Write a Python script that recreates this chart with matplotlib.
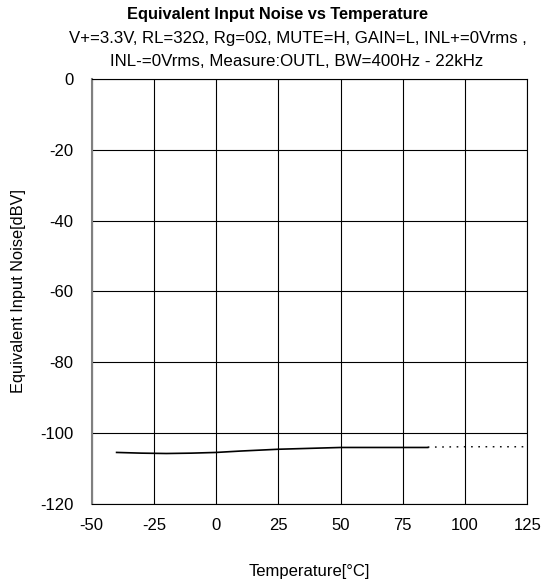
import matplotlib
matplotlib.use("Agg")
import matplotlib.pyplot as plt

# measured curve
temp = [-40, -30, -20, -10, 0, 10, 25, 40, 50, 65, 75, 85]
noise = [-105.4, -105.6, -105.7, -105.6, -105.4, -105.0, -104.5, -104.2, -104.0, -104.0, -104.0, -104.0]

# extrapolated (dotted) part
temp_ext = [85, 100, 125]
noise_ext = [-103.9, -103.8, -103.8]

x_ticks = [-50, -25, 0, 25, 50, 75, 100, 125]
y_ticks = [0, -20, -40, -60, -80, -100, -120]

plt.rcParams['font.family'] = ['Liberation Sans', 'DejaVu Sans']
plt.rcParams['axes.unicode_minus'] = False

fig = plt.figure(figsize=(5.42, 5.88), dpi=100)
ax = fig.add_axes([0.1692, 0.1425, 0.9729 - 0.1692, 0.8662 - 0.1425])

ax.plot(temp, noise, color='black', lw=1.2)
ax.plot(temp_ext, noise_ext, color='black', lw=1.0, linestyle=(0, (1.2, 4)))

ax.set_xlim(-50, 125)
ax.set_ylim(-120, 0)
ax.set_xticks(x_ticks)
ax.set_yticks(y_ticks)
ax.grid(True, color='black', lw=0.8)
ax.tick_params(length=0, labelsize=12, pad=13)
ax.tick_params(axis='x', pad=10)

for s in ['top', 'right', 'bottom']:
    ax.spines[s].set_color('black')
    ax.spines[s].set_linewidth(0.8)
ax.spines['left'].set_color('#808080')
ax.spines['left'].set_linewidth(1.5)

ax.set_xlabel('Temperature[°C]', fontsize=12, labelpad=22)
ax.set_ylabel('Equivalent Input Noise[dBV]', fontsize=11.8, labelpad=10)

fig.text(0.512, 1 - 15 / 588, 'Equivalent Input Noise vs Temperature', ha='center', va='center',
         fontsize=11.8, fontweight='bold')
fig.text(0.549, 1 - 38 / 588, 'V+=3.3V, RL=32Ω, Rg=0Ω, MUTE=H, GAIN=L, INL+=0Vrms ,', ha='center',
         va='center', fontsize=12.1)
fig.text(0.547, 1 - 62 / 588, 'INL-=0Vrms, Measure:OUTL, BW=400Hz - 22kHz', ha='center',
         va='center', fontsize=12.2)

fig.savefig('out.png', dpi=100)
